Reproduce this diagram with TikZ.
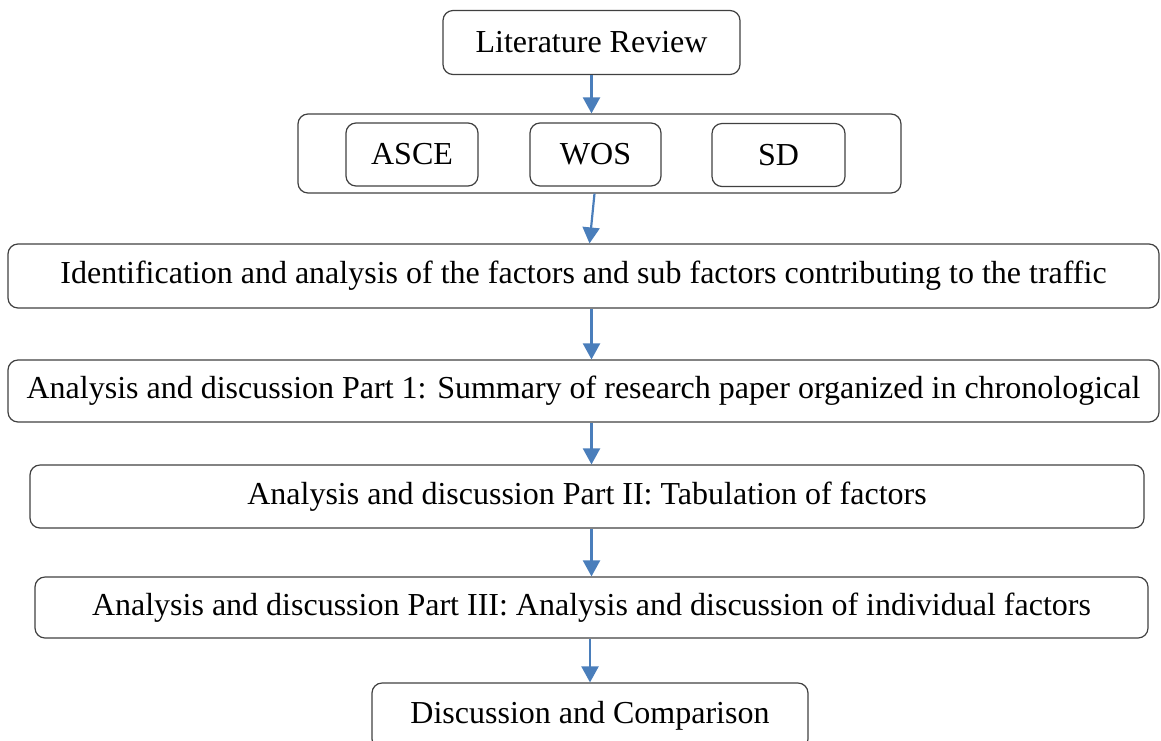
\documentclass[tikz,border=0pt]{standalone}
\usepackage{fontspec}
\setmainfont{Liberation Serif}
\usetikzlibrary{arrows.meta}
\definecolor{arrowblue}{HTML}{4A7EBB}
\definecolor{boxline}{HTML}{404040}
\begin{document}
\begin{tikzpicture}[x=1pt,y=-1pt,
  box/.style={draw=boxline,line width=1.2pt,rounded corners=10pt,inner sep=0pt,
    font=\fontsize{32}{37}\selectfont,align=center},
  arr/.style={draw=arrowblue,line width=2.2pt,-{Triangle[width=17pt,length=16pt]}}]
\useasboundingbox (0,0) rectangle (1161,740);
\node[box,minimum width=297pt,minimum height=64pt] (lit) at (591.5,42.5) {Literature Review};
\node[box,minimum width=603pt,minimum height=79pt] (db) at (599.5,153.5) {};
\node[box,minimum width=132pt,minimum height=63pt] (asce) at (412,154.5) {ASCE};
\node[box,minimum width=131pt,minimum height=63pt] (wos) at (595.5,154.5) {WOS};
\node[box,minimum width=133pt,minimum height=63pt] (sd) at (778.5,155) {SD};
\node[box,minimum width=1151pt,minimum height=64pt] (ident) at (583.5,276) {Identification and analysis of the factors and sub factors contributing to the traffic};
\node[box,minimum width=1151pt,minimum height=62pt] (p1) at (583.5,391) {Analysis and discussion Part 1: Summary of research paper organized in chronological};
\node[box,minimum width=1114pt,minimum height=63pt] (p2) at (587,496.5) {Analysis and discussion Part II: Tabulation of factors};
\node[box,minimum width=1113pt,minimum height=61pt] (p3) at (591.5,607.5) {Analysis and discussion Part III: Analysis and discussion of individual factors};
\node[box,minimum width=436pt,minimum height=66pt] (disc) at (590,716) {Discussion and Comparison};
\draw[arr] (lit.south) -- (lit.south |- db.north);
\draw[arr] ([xshift=-5pt]db.south) -- ([xshift=6pt]ident.north);
\draw[arr] (ident.south -| lit.south) -- (p1.north -| lit.south);
\draw[arr] (p1.south -| lit.south) -- (p2.north -| lit.south);
\draw[arr] (p2.south -| lit.south) -- (p3.north -| lit.south);
\draw[arr] (p3.south -| disc.north) -- (disc.north);
\end{tikzpicture}
\end{document}
